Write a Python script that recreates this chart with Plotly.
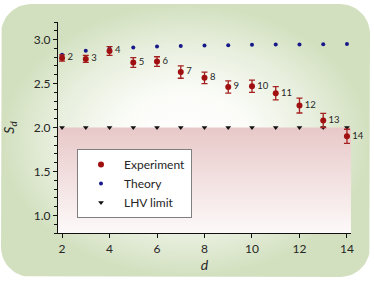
import numpy as np
import plotly.graph_objects as go

# ---------------- data ----------------
d = list(range(2, 15))
s_experiment = [2.79, 2.78, 2.87, 2.74, 2.75, 2.63, 2.565, 2.46, 2.47, 2.39, 2.25, 2.08, 1.90]
s_error = [0.035, 0.04, 0.05, 0.055, 0.055, 0.07, 0.065, 0.07, 0.07, 0.075, 0.085, 0.08, 0.08]
s_theory = [2.828, 2.873, 2.896, 2.910, 2.920, 2.927, 2.932, 2.936, 2.940, 2.943, 2.945, 2.947, 2.949]
s_lhv = [2.0] * len(d)
point_labels = [str(v) for v in d]
x_tickvals = [2, 4, 6, 8, 10, 12, 14]
lhv_level = 2.0

# ---------------- layout constants ----------------
W, H = 374, 281
X_RANGE = [1.83, 14.17]
Y_RANGE = [0.8, 3.2]
PLOT_L, PLOT_R, PLOT_T, PLOT_B = 58, 351, 22, 233
FONT = "Lato, 'Open Sans', sans-serif"
TXT = "#262626"


def rounded_rect(x0, y0, x1, y1, r, n=16):
    xs, ys = [], []
    corners = [
        (x1 - r, y0 + r, -np.pi / 2, 0),
        (x1 - r, y1 - r, 0, np.pi / 2),
        (x0 + r, y1 - r, np.pi / 2, np.pi),
        (x0 + r, y0 + r, np.pi, 1.5 * np.pi),
    ]
    for cx, cy, a0, a1 in corners:
        t = np.linspace(a0, a1, n)
        xs += list(cx + r * np.cos(t))
        ys += list(cy + r * np.sin(t))
    xs.append(xs[0])
    ys.append(ys[0])
    return xs, ys


fig = go.Figure()

# background panel (pixel coordinates on hidden axes x/y)
px_, py_ = rounded_rect(1, 4, 370, 277, 30)
fig.add_trace(go.Scatter(
    x=px_, y=py_, xaxis="x", yaxis="y", mode="lines", fill="toself",
    line=dict(width=0, color="rgba(0,0,0,0)"),
    fillgradient=dict(type="radial",
                      colorscale=[[0, "#ffffff"], [0.35, "#fbfcf8"], [0.7, "#e8efde"], [1, "#d2e0bf"]]),
    hoverinfo="skip", showlegend=False,
))

# pink LHV-violating region below the limit
fig.add_trace(go.Scatter(
    x=[X_RANGE[0], X_RANGE[1], X_RANGE[1], X_RANGE[0], X_RANGE[0]],
    y=[Y_RANGE[0], Y_RANGE[0], lhv_level, lhv_level, Y_RANGE[0]],
    xaxis="x2", yaxis="y2", mode="lines", fill="toself",
    line=dict(width=0, color="rgba(0,0,0,0)"),
    fillgradient=dict(type="vertical", colorscale=[[0, "#fdf9f9"], [1, "#e8c8c8"]]),
    hoverinfo="skip", showlegend=False,
))

# LHV limit
fig.add_trace(go.Scatter(
    x=d, y=s_lhv, xaxis="x2", yaxis="y2", mode="markers", name="LHV limit",
    marker=dict(symbol="triangle-down", size=5, color="#111111"),
))

# Theory
fig.add_trace(go.Scatter(
    x=d, y=s_theory, xaxis="x2", yaxis="y2", mode="markers", name="Theory",
    marker=dict(symbol="circle", size=4, color="#16188a"),
))

# Experiment
fig.add_trace(go.Scatter(
    x=d, y=s_experiment, xaxis="x2", yaxis="y2", mode="markers", name="Experiment",
    marker=dict(symbol="circle", size=6, color="#a01010", line=dict(width=0)),
    error_y=dict(type="data", array=s_error, visible=True, color="#a52020", thickness=1.3, width=3),
    cliponaxis=False,
))

# point labels
fig.add_trace(go.Scatter(
    x=d, y=s_experiment, xaxis="x2", yaxis="y2", mode="markers+text",
    text=point_labels, textposition="middle right",
    textfont=dict(size=9.5, color=TXT, family=FONT),
    marker=dict(size=7, opacity=0), hoverinfo="skip", showlegend=False,
    cliponaxis=False,
))

# order legend: Experiment, Theory, LHV limit
fig.data[2].legendrank = 3
fig.data[3].legendrank = 2
fig.data[4].legendrank = 1

fig.update_layout(
    width=W, height=H,
    margin=dict(l=0, r=0, t=0, b=0, autoexpand=False),
    paper_bgcolor="white", plot_bgcolor="rgba(0,0,0,0)",
    font=dict(family=FONT, size=12, color=TXT),
    showlegend=True,
    legend=dict(
        x=77 / W, y=1 - 149 / H, xanchor="left", yanchor="top",
        bgcolor="white", bordercolor="#7f7f7f", borderwidth=1,
        font=dict(size=12, color=TXT, family=FONT),
        itemwidth=36, entrywidth=74, entrywidthmode="pixels",
        tracegroupgap=0,
    ),
    xaxis=dict(domain=[0, 1], range=[0, W], visible=False, fixedrange=True, automargin=False),
    yaxis=dict(domain=[0, 1], range=[H, 0], visible=False, fixedrange=True, automargin=False),
    xaxis2=dict(
        domain=[PLOT_L / W, PLOT_R / W], range=X_RANGE, anchor="y2", automargin=False,
        showline=True, linecolor="#111111", linewidth=1.3,
        ticks="outside", ticklen=4, tickwidth=1.3, tickcolor="#111111",
        tickvals=x_tickvals, showgrid=False, zeroline=False,
        tickfont=dict(size=12, color=TXT),
        title=dict(text="<i>d</i>", font=dict(size=14, color=TXT), standoff=4),
    ),
    yaxis2=dict(
        domain=[1 - PLOT_B / H, 1 - PLOT_T / H], range=Y_RANGE, anchor="x2", automargin=False,
        showline=True, linecolor="#111111", linewidth=1.3,
        ticks="outside", ticklen=4, tickwidth=1.3, tickcolor="#111111",
        tick0=0, dtick=0.5, tickformat=".1f", showgrid=False, zeroline=False,
        tickfont=dict(size=12, color=TXT),
        minor=dict(dtick=0.1, tick0=0, ticks="outside", ticklen=2.5, tickwidth=1, tickcolor="#111111", showgrid=False),
        title=dict(text="<i>S</i><sub><i>d</i></sub>", font=dict(size=14, color=TXT), standoff=15),
    ),
)

fig.write_html("out.html", config={"displayModeBar": False},
               post_script="document.body.style.margin='0';document.body.style.padding='0';")
